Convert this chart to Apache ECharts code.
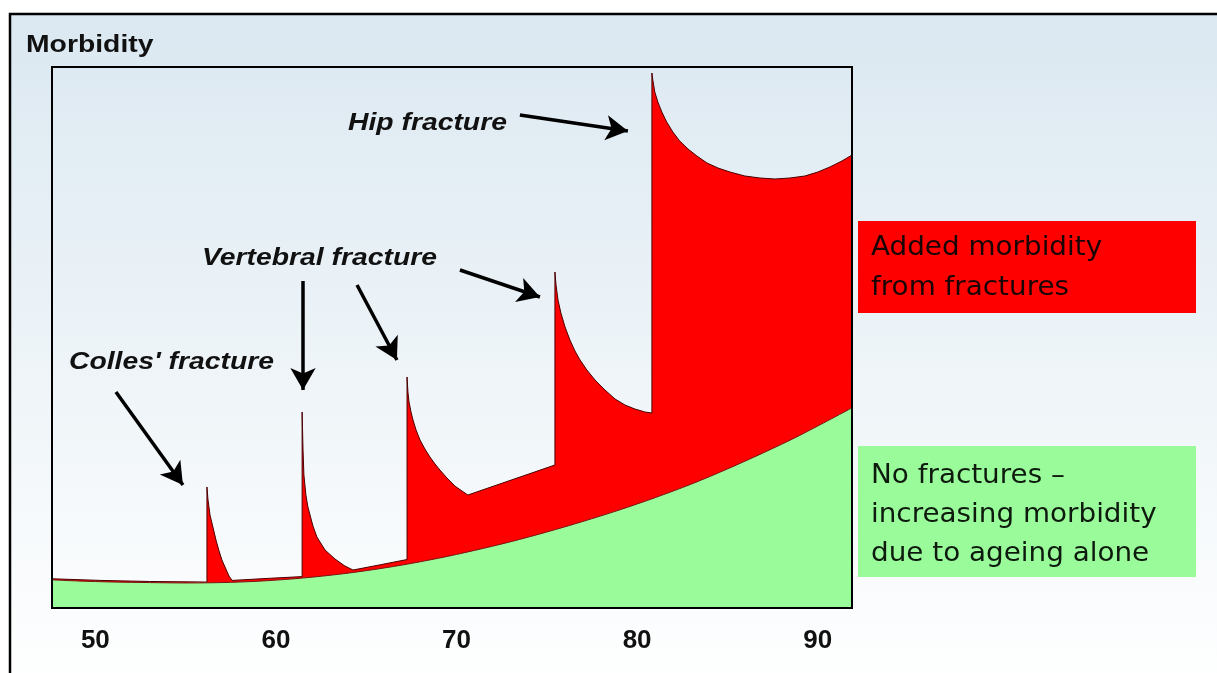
<!DOCTYPE html>
<html>
<head>
<meta charset="utf-8">
<script src="https://cdn.jsdelivr.net/npm/echarts@6/dist/echarts.min.js"></script>
<style>
  html, body { margin: 0; padding: 0; background: #ffffff; }
  #chart { width: 1217px; height: 673px; }
</style>
</head>
<body>
<div id="chart"></div>
<script>
// Age (years) on the x axis, morbidity (relative units, 0-100) on the y axis.
const tickAges = [50, 60, 70, 80, 90];

// Morbidity from ageing alone (no fractures).
const baseAges   = [47.6, 49, 51, 53, 55, 57, 59, 61, 63, 65, 67, 69, 71, 73, 75, 77, 79, 81, 83, 85, 87, 89, 91.9];
const baseValues = [5.2, 5.0, 4.8, 4.7, 4.63, 4.7, 4.95, 5.4, 6.05, 6.9, 7.95, 9.2, 10.65, 12.25, 14.05, 16.0, 18.1, 20.4, 22.9, 25.7, 28.7, 31.9, 37.0];

// Total morbidity including fractures (a repeated age marks a sudden jump).
const totalAges = [
  47.6, 50.3, 53.0, 56.18,
  // Colles' fracture
  56.18, 56.24, 56.35, 56.51, 56.68, 56.85, 57.01, 57.23, 57.4, 57.57, 59.7, 61.45,
  // first vertebral fracture
  61.45, 61.5, 61.55, 61.66, 61.77, 62.05, 62.27, 62.72, 63.27, 63.82, 64.27, 65.79, 67.26,
  // second vertebral fracture
  67.26, 67.31, 67.37, 67.48, 67.59, 67.76, 67.98, 68.25, 68.53, 68.81, 69.08, 69.47, 69.91, 70.3, 70.63, 75.45,
  // third vertebral fracture
  75.45, 75.51, 75.62, 75.78, 76.01, 76.28, 76.56, 76.84, 77.22, 77.67, 78.22, 78.78, 79.33, 79.88, 80.43, 80.82,
  // hip fracture
  80.82, 80.87, 80.98, 81.15, 81.37, 81.64, 81.98, 82.36, 82.82, 83.31, 83.87, 84.48, 85.14, 85.97,
  86.8, 87.63, 88.46, 89.29, 90.01, 90.68, 91.34, 91.9
];
const totalValues = [
  5.4, 5.1, 4.9, 4.8,
  22.37, 19.96, 17.19, 14.97, 12.57, 10.54, 8.87, 7.21, 5.91, 5.1, 5.5, 5.8,
  36.23, 29.2, 24.58, 20.89, 18.67, 15.16, 13.12, 10.72, 9.06, 7.76, 7.02, 8.0, 8.96,
  42.7, 39.93, 38.08, 36.23, 34.75, 32.9, 31.05, 29.39, 27.91, 26.62, 25.51, 24.03, 22.55, 21.63, 20.89, 26.43,
  62.11, 59.7, 56.93, 54.53, 51.94, 49.54, 47.5, 45.84, 43.99, 42.14, 40.3, 38.63, 37.52, 36.78, 36.23, 36.04,
  98.89, 97.6, 95.38, 93.53, 91.68, 89.83, 87.99, 86.32, 84.84, 83.55, 82.26, 81.33, 80.59, 79.85,
  79.48, 79.3, 79.48, 79.85, 80.59, 81.52, 82.62, 83.73
];

// Annotation arrows: [age, morbidity] start and tip points.
const arrowFrom = [[51.14, 39.93], [61.5, 60.44], [64.49, 59.7], [70.19, 62.48], [73.51, 91.13]];
const arrowTo   = [[54.85, 22.74], [61.5, 40.3], [66.7, 45.84], [74.62, 57.49], [79.49, 88.17]];

const noteTexts   = ["Colles' fracture", 'Vertebral fracture', 'Hip fracture'];
const legendTexts = ['Added morbidity\nfrom fractures', 'No fractures \u2013\nincreasing morbidity\ndue to ageing alone'];
const axisTitle   = 'Morbidity';

const RED = '#ff0000';
const GREEN = '#9afb9a';

const chart = echarts.init(document.getElementById('chart'), null, { renderer: 'canvas' });

const totalData = totalAges.map((a, i) => [a, totalValues[i]]);
const baseData  = baseAges.map((a, i) => [a, baseValues[i]]);
const arrowData = arrowFrom.map((p, i) => [{ coord: p }, { coord: arrowTo[i] }]);

const noteFont = 'italic bold 24px "Liberation Sans", Arial, sans-serif';
const boxFont  = '27px "DejaVu Sans", Verdana, sans-serif';

chart.setOption({
  animation: false,
  grid: { left: 52, right: 365, top: 67, bottom: 65, show: false },
  xAxis: {
    type: 'value', min: 47.6, max: 91.9,
    axisLine: { show: false }, axisTick: { show: false }, splitLine: { show: false },
    axisLabel: {
      customValues: tickAges, margin: 20,
      fontFamily: '"Liberation Sans", Arial, sans-serif', fontWeight: 'bold', fontSize: 26, color: '#111'
    }
  },
  yAxis: {
    type: 'value', min: 0, max: 100, show: false, splitLine: { show: false }
  },
  series: [
    {
      name: 'Added morbidity from fractures', type: 'line', data: totalData,
      symbol: 'none', smooth: false, z: 2,
      lineStyle: { color: '#4a0000', width: 1 },
      areaStyle: { color: RED, opacity: 1 },
      markLine: {
        silent: true, symbol: ['none', 'arrow'], symbolSize: [19, 22],
        label: { show: false },
        lineStyle: { color: '#000', width: 3.5, type: 'solid' },
        emphasis: { disabled: true },
        data: arrowData
      }
    },
    {
      name: 'No fractures', type: 'line', data: baseData,
      symbol: 'none', smooth: 0.3, z: 3,
      lineStyle: { color: '#7a1414', width: 1 },
      areaStyle: { color: GREEN, opacity: 1 }
    }
  ],
  graphic: [
    {
      type: 'rect', z: 0, silent: true,
      shape: { x: 10, y: 14, width: 1300, height: 680 },
      style: {
        fill: new echarts.graphic.LinearGradient(0, 0, 0, 1, [
          { offset: 0, color: '#dbe8f1' },
          { offset: 0.85, color: '#fafcfd' },
          { offset: 1, color: '#ffffff' }
        ]),
        stroke: '#000', lineWidth: 2.5
      }
    },
    {
      type: 'rect', z: 50, silent: true,
      shape: { x: 52, y: 67, width: 800, height: 541 },
      style: { fill: null, stroke: '#000', lineWidth: 2 }
    },
    {
      type: 'text', z: 60, x: 26, y: 45, scaleX: 1.18,
      style: { text: axisTitle, font: 'bold 24px "Liberation Sans", Arial, sans-serif', fill: '#111', verticalAlign: 'middle', textVerticalAlign: 'middle' }
    },
    {
      type: 'text', z: 60, x: 69, y: 362, scaleX: 1.18,
      style: { text: noteTexts[0], font: noteFont, fill: '#111', verticalAlign: 'middle', textVerticalAlign: 'middle' }
    },
    {
      type: 'text', z: 60, x: 202, y: 258, scaleX: 1.18,
      style: { text: noteTexts[1], font: noteFont, fill: '#111', verticalAlign: 'middle', textVerticalAlign: 'middle' }
    },
    {
      type: 'text', z: 60, x: 348, y: 123, scaleX: 1.18,
      style: { text: noteTexts[2], font: noteFont, fill: '#111', verticalAlign: 'middle', textVerticalAlign: 'middle' }
    },
    {
      type: 'rect', z: 60, silent: true,
      shape: { x: 858, y: 221, width: 338, height: 92 },
      style: { fill: RED }
    },
    {
      type: 'text', z: 61, x: 871, y: 228, scaleX: 1.03,
      style: { text: legendTexts[0], font: boxFont, fill: '#1a0505', lineHeight: 40, verticalAlign: 'top', textVerticalAlign: 'top' }
    },
    {
      type: 'rect', z: 60, silent: true,
      shape: { x: 858, y: 446, width: 338, height: 131 },
      style: { fill: GREEN }
    },
    {
      type: 'text', z: 61, x: 871, y: 456, scaleX: 1.03,
      style: { text: legendTexts[1], font: boxFont, fill: '#0d1a0d', lineHeight: 39, verticalAlign: 'top', textVerticalAlign: 'top' }
    }
  ]
});
</script>
</body>
</html>
